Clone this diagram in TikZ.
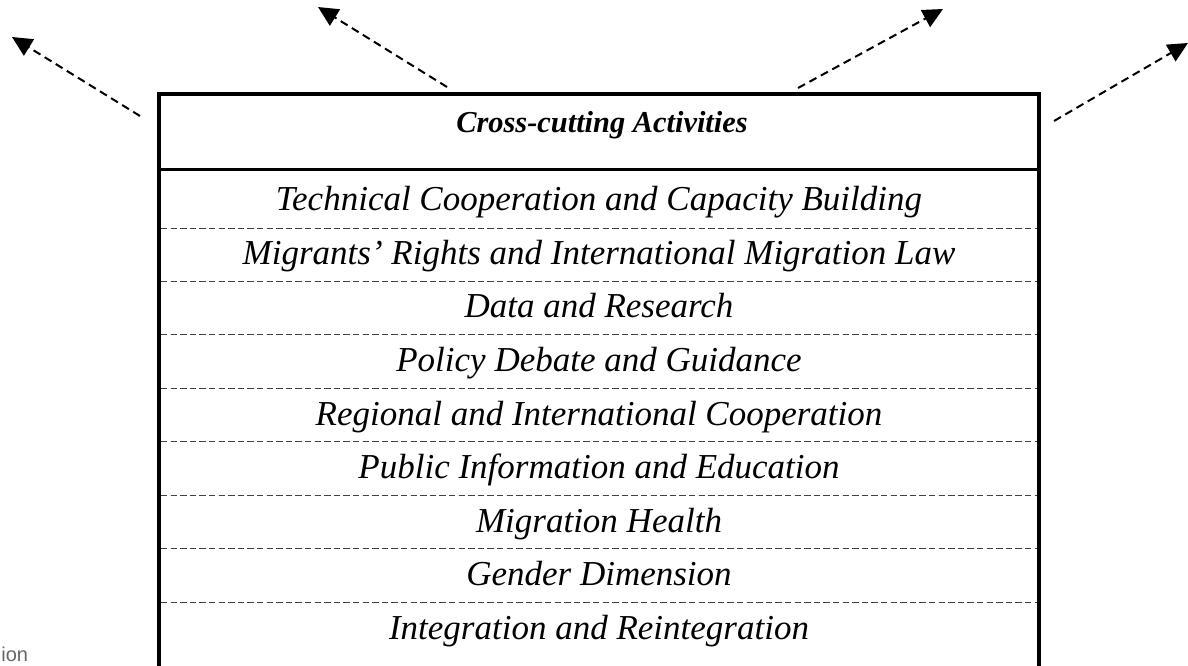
\documentclass[tikz,border=0pt]{standalone}
\usepackage{fontspec}
\setmainfont{Liberation Serif}
\newfontfamily\labelsans{Liberation Sans}
\usetikzlibrary{arrows.meta}
\begin{document}
\begin{tikzpicture}[x=0.5pt,y=-0.5pt,
  frame/.style={line width=2pt, line cap=rect},
  headrule/.style={line width=1.5pt},
  rowrule/.style={line width=0.5pt, draw=black!75, dash pattern=on 3.2pt off 1.6pt},
  flow/.style={line width=1pt, dash pattern=on 4pt off 2.5pt, -{Triangle[length=10pt,width=9.5pt]}},
  rowtext/.style={font=\fontsize{17.5}{21}\selectfont\itshape, anchor=base, inner sep=0pt},
  headtext/.style={font=\fontsize{15.2}{18}\selectfont\bfseries\itshape, anchor=base, inner sep=0pt}]
\useasboundingbox (0,0) rectangle (1188,665);
\clip (0,0) rectangle (1188,665);
% frame
\coordinate (bl) at (159,690);
\coordinate (tl) at (159,93.5);
\coordinate (tr) at (1039,93.5);
\coordinate (br) at (1039,690);
\draw[frame] (bl) -- (tl) -- (tr) -- (br);
\coordinate (hl) at (159,169.5);
\coordinate (hr) at (1039,169.5);
\draw[headrule] (hl) -- (hr);
\node[headtext] (head) at (602,132) {Cross-cutting Activities};
% rows
\node[rowtext] (r1) at (599,210.5) {Technical Cooperation and Capacity Building};
\node[rowtext] (r2) at (599,264) {Migrants’ Rights and International Migration Law};
\node[rowtext] (r3) at (599,317.5) {Data and Research};
\node[rowtext] (r4) at (599,371.5) {Policy Debate and Guidance};
\node[rowtext] (r5) at (599,425) {Regional and International Cooperation};
\node[rowtext] (r6) at (599,478.5) {Public Information and Education};
\node[rowtext] (r7) at (599,532) {Migration Health};
\node[rowtext] (r8) at (599,585.5) {Gender Dimension};
\node[rowtext] (r9) at (599,639.5) {Integration and Reintegration};
\foreach \yy in {228,281,334.5,388,441.5,495,548.5,602}{
  \draw[rowrule] (161,\yy) -- (1037,\yy);
}
% arrows
\coordinate (s1) at (140,116); \coordinate (e1) at (12,37);
\coordinate (s2) at (447,87);  \coordinate (e2) at (318,7);
\coordinate (s3) at (798,88);  \coordinate (e3) at (943,9);
\coordinate (s4) at (1054,121); \coordinate (e4) at (1188,43);
\draw[flow] (s1) -- (e1);
\draw[flow] (s2) -- (e2);
\draw[flow] (s3) -- (e3);
\draw[flow] (s4) -- (e4);
% caption fragment
\node[anchor=base west, font=\labelsans\fontsize{10}{12}\selectfont, text=black!60, inner sep=0pt] (cut) at (1,661) {ion};
\end{tikzpicture}
\end{document}
